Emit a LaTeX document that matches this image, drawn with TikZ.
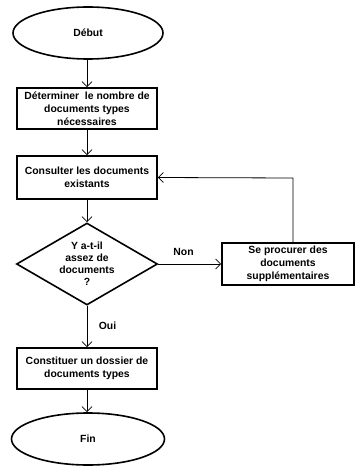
\documentclass[tikz,border=0pt]{standalone}
\usepackage{fontspec}
\setmainfont{Liberation Sans}
\usetikzlibrary{shapes.geometric,arrows.meta}
\begin{document}
\begin{tikzpicture}[x=1pt,y=-1pt,
  every node/.style={font=\bfseries\fontsize{10.4}{13}\selectfont, align=center},
  term/.style={ellipse, draw, line width=1.6pt, inner sep=0pt},
  procbox/.style={rectangle, draw, line width=1.6pt, inner sep=0pt},
  decide/.style={diamond, draw, line width=1.6pt, inner sep=0pt, aspect=1.72,
     font=\bfseries\fontsize{10.4}{12}\selectfont},
  lbl/.style={inner sep=0pt},
  flow/.style={line width=0.8pt, -{Straight Barb[length=5pt,width=10pt,line width=0.8pt]}}
]
\useasboundingbox (0,0) rectangle (355,468);
\node[term, minimum width=150pt, minimum height=52pt] (debut) at (88,33) {Début};
\node[procbox, minimum width=140pt, minimum height=41pt] (b1) at (87,108.5)
  {Déterminer\ \ le nombre de\\documents types\\nécessaires};
\node[procbox, minimum width=140pt, minimum height=43pt] (b2) at (87,177.5)
  {Consulter les documents\\existants};
\node[decide, minimum width=141pt, minimum height=82pt] (dec) at (87,264)
  {Y a-t-il\\assez de\\documents\\?};
\node[procbox, minimum width=132pt, minimum height=42pt] (b3) at (288,264)
  {Se procurer des\\documents\\supplémentaires};
\node[procbox, minimum width=140pt, minimum height=41pt] (b4) at (87,368.5)
  {Constituer un dossier de\\documents types};
\node[term, minimum width=153pt, minimum height=52pt] (fin) at (88,439) {Fin};
\coordinate (corner) at (293,178);
\draw[flow] (debut.south -| b1.north) -- (b1.north);
\draw[flow] (b1) -- (b2);
\draw[flow] (b2) -- (dec);
\draw[flow] (dec.east) -- (b3.west |- dec.east);
\draw[flow] (dec) -- (b4);
\draw[flow] (b4.south) -- (b4.south |- fin.north);
\draw[flow] (b3.north -| corner) -- (corner) -- (b2.east);
\node[lbl] (non) at (183.5,252) {Non};
\node[lbl] (oui) at (107.5,326) {Oui};
\end{tikzpicture}
\end{document}
